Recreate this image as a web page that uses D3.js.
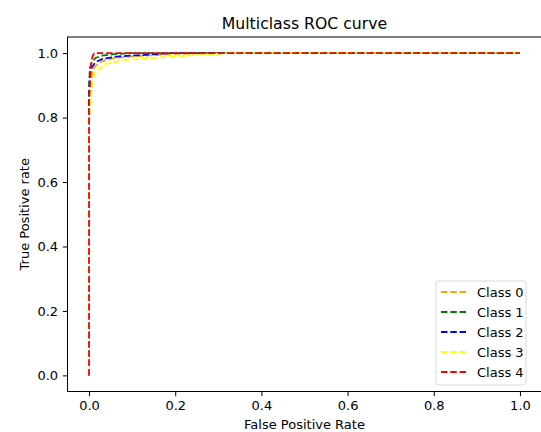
<!DOCTYPE html>
<html>
<head>
<meta charset="utf-8">
<script src="https://cdn.jsdelivr.net/npm/d3@7"></script>
<style>
  html, body { margin: 0; padding: 0; background: #fff; }
  svg { display: block; font-family: "DejaVu Sans", sans-serif; }
</style>
</head>
<body>
<svg id="chart" width="541" height="432"></svg>
<script>
// ---- data ----
const classNames = ["Class 0", "Class 1", "Class 2", "Class 3", "Class 4"];
const classColors = ["#ffa500", "#008000", "#0000ff", "#ffff00", "#ff0000"];

const fpr0 = [0, 0, 0.002, 0.004, 0.008, 0.015, 0.03, 0.06, 0.1, 0.2, 0.3, 1];
const tpr0 = [0, 0.80, 0.85, 0.91, 0.945, 0.96, 0.975, 0.985, 0.99, 0.997, 1, 1];

const fpr1 = [0, 0, 0.002, 0.006, 0.015, 0.03, 0.06, 0.1, 1];
const tpr1 = [0, 0.90, 0.955, 0.97, 0.985, 0.992, 0.997, 1, 1];

const fpr2 = [0, 0, 0.002, 0.006, 0.015, 0.033, 0.07, 0.125, 0.19, 1];
const tpr2 = [0, 0.86, 0.93, 0.955, 0.972, 0.983, 0.99, 0.994, 1, 1];

const fpr3 = [0, 0, 0.004, 0.008, 0.018, 0.04, 0.087, 0.165, 0.25, 0.33, 1];
const tpr3 = [0, 0.80, 0.86, 0.92, 0.947, 0.967, 0.979, 0.987, 0.994, 1, 1];

const fpr4 = [0, 0, 0.003, 0.008, 0.012, 1];
const tpr4 = [0, 0.85, 0.95, 0.99, 1, 1];

const xTicks = [0.0, 0.2, 0.4, 0.6, 0.8, 1.0];
const yTicks = [0.0, 0.2, 0.4, 0.6, 0.8, 1.0];

const titleText = "Multiclass ROC curve";
const xLabel = "False Positive Rate";
const yLabel = "True Positive rate";

// ---- layout ----
const svg = d3.select("#chart");
const mLeft = 67.5, mRight = 541.5, mTop = 37, mBottom = 391.5;
const fs = 13;

const x = d3.scaleLinear().domain([-0.05, 1.05]).range([mLeft, mRight]);
const y = d3.scaleLinear().domain([-0.05, 1.05]).range([mBottom, mTop]);

const series = [
  { name: classNames[0], color: classColors[0], fpr: fpr0, tpr: tpr0 },
  { name: classNames[1], color: classColors[1], fpr: fpr1, tpr: tpr1 },
  { name: classNames[2], color: classColors[2], fpr: fpr2, tpr: tpr2 },
  { name: classNames[3], color: classColors[3], fpr: fpr3, tpr: tpr3 },
  { name: classNames[4], color: classColors[4], fpr: fpr4, tpr: tpr4 }
];

// clip
svg.append("defs").append("clipPath").attr("id", "clip")
  .append("rect").attr("x", mLeft).attr("y", mTop).attr("width", mRight - mLeft).attr("height", mBottom - mTop);

const line = d3.line().x(d => x(d[0])).y(d => y(d[1]));

const plot = svg.append("g").attr("clip-path", "url(#clip)");
series.forEach(s => {
  const pts = s.fpr.map((f, i) => [f, s.tpr[i]]);
  plot.append("path")
    .attr("d", line(pts))
    .attr("fill", "none")
    .attr("stroke", s.color)
    .attr("stroke-width", 1.8)
    .attr("stroke-dasharray", "6.5,2.8");
});

// axes
const xAxis = d3.axisBottom(x).tickValues(xTicks).tickFormat(d3.format(".1f")).tickSizeOuter(0).tickSize(4.7).tickPadding(4.5);
const yAxis = d3.axisLeft(y).tickValues(yTicks).tickFormat(d3.format(".1f")).tickSizeOuter(0).tickSize(4.7).tickPadding(4.7);

const gx = svg.append("g").attr("transform", `translate(0,${mBottom})`).call(xAxis);
const gy = svg.append("g").attr("transform", `translate(${mLeft},0)`).call(yAxis);
[gx, gy].forEach(g => {
  g.select(".domain").remove();
  g.selectAll(".tick line").attr("stroke", "#000").attr("stroke-width", 1);
  g.selectAll(".tick text").attr("fill", "#000").style("font-size", fs + "px").style("font-family", "DejaVu Sans");
});

// spines
svg.append("rect")
  .attr("x", mLeft).attr("y", mTop)
  .attr("width", mRight - mLeft).attr("height", mBottom - mTop)
  .attr("fill", "none").attr("stroke", "#000").attr("stroke-width", 1);

// title and labels
svg.append("text")
  .attr("x", (mLeft + mRight) / 2).attr("y", 29)
  .attr("text-anchor", "middle")
  .style("font-size", "15.7px")
  .attr("fill", "#000")
  .text(titleText);

svg.append("text")
  .attr("x", (mLeft + mRight) / 2).attr("y", 429)
  .attr("text-anchor", "middle")
  .style("font-size", fs + "px")
  .attr("fill", "#000")
  .text(xLabel);

svg.append("text")
  .attr("transform", `translate(28.5,${(mTop + mBottom) / 2}) rotate(-90)`)
  .attr("text-anchor", "middle")
  .style("font-size", fs + "px")
  .attr("fill", "#000")
  .text(yLabel);

// legend
const lg = svg.append("g");
lg.append("rect")
  .attr("x", 436).attr("y", 281).attr("width", 90).attr("height", 104)
  .attr("rx", 3).attr("ry", 3)
  .attr("fill", "#fff").attr("fill-opacity", 0.8)
  .attr("stroke", "#d9d9d9").attr("stroke-width", 1);

series.forEach((s, i) => {
  const yy = 292 + i * 20;
  lg.append("line")
    .attr("x1", 441).attr("x2", 466)
    .attr("y1", yy).attr("y2", yy)
    .attr("stroke", s.color).attr("stroke-width", 1.8)
    .attr("stroke-dasharray", "6.5,2.8");
  lg.append("text")
    .attr("x", 477).attr("y", yy + 4.5)
    .style("font-size", fs + "px")
    .attr("fill", "#000")
    .text(s.name);
});
</script>
</body>
</html>
